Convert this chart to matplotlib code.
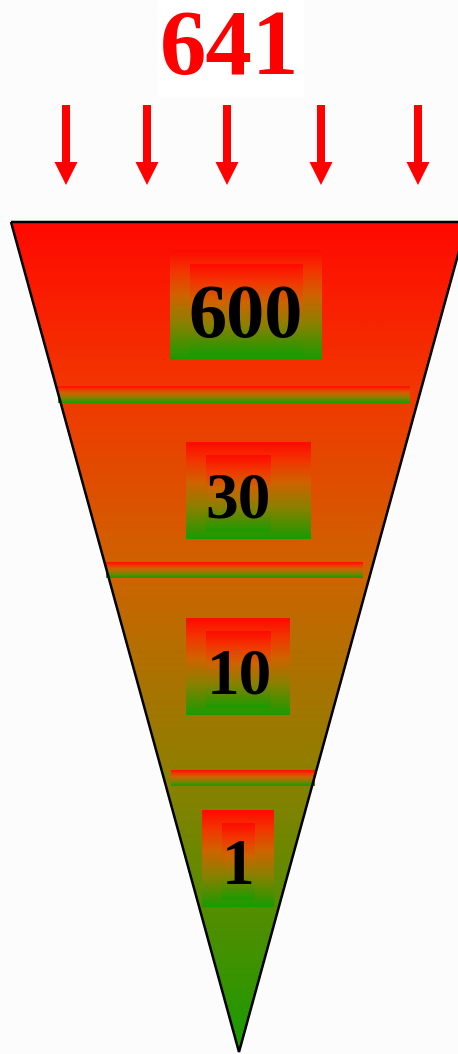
import numpy as np
import matplotlib.pyplot as plt
from matplotlib.colors import LinearSegmentedColormap
from matplotlib.patches import Polygon, Rectangle, FancyArrow

# funnel data
total = 641
stage_values = [600, 30, 10, 1]
stage_labels = [str(v) for v in stage_values]

# layout (pixel space, y grows downward)
W, H = 458, 1054
funnel_top, funnel_apex = 222, 1052
funnel_left, funnel_right, funnel_cx = 11, 467, 239
arrow_x = [66, 147, 227, 321, 418]
outer_boxes = [(170, 322, 250, 359), (186, 311, 442, 539), (186, 290, 618, 715), (202, 274, 810, 907)]
inner_boxes = [(190, 303, 264, 355), (206, 271, 455, 532), (206, 271, 631, 708), (222, 255, 823, 900)]
label_pos = [(246, 337, 55), (238, 517, 47), (239, 693, 47), (238, 884, 47)]
separators = [(58, 410, 386, 403), (106, 363, 562, 578), (171, 315, 770, 786)]

cmap = LinearSegmentedColormap.from_list(
    'redgreen', [(0, '#ff0a00'), (0.2, '#f23700'), (0.42, '#ce6400'),
                 (0.67, '#8c8000'), (1, '#1a9b00')])
grad = np.linspace(0, 1, 256).reshape(-1, 1)

fig = plt.figure(figsize=(W / 100, H / 100), dpi=100)
fig.patch.set_facecolor('#fcfcfc')
ax = fig.add_axes([0, 0, 1, 1])
ax.set_facecolor('#fcfcfc')


def grad_rect(x0, x1, y0, y1, z, clip=None):
    im = ax.imshow(grad, cmap=cmap, extent=(x0, x1, y1, y0), aspect='auto',
                   interpolation='bilinear', zorder=z)
    if clip is not None:
        im.set_clip_path(clip)
    return im


# funnel body
tri = Polygon([(funnel_left, funnel_top), (funnel_right, funnel_top), (funnel_cx, funnel_apex)],
              closed=True, facecolor='none', edgecolor='black', linewidth=1.8, zorder=3)
ax.add_patch(tri)
grad_rect(funnel_left, funnel_right, funnel_top, funnel_apex, 1, clip=tri)

# separators between stages
for x0, x1, y0, y1 in separators:
    grad_rect(x0, x1, y0, y1, 2)

# stage boxes and numbers
for (ob, ib, (tx, ty, fs), lab) in zip(outer_boxes, inner_boxes, label_pos, stage_labels):
    grad_rect(*ob, 2)
    grad_rect(*ib, 2.5)
    ax.text(tx, ty, lab, ha='center', va='baseline', fontsize=fs, fontweight='bold',
            family='Liberation Serif', color='black', zorder=4)

# total on top
ax.add_patch(Rectangle((158, 0), 146, 97, facecolor='white', edgecolor='none', zorder=1))
ax.text(230, 74, str(total), ha='center', va='baseline', fontsize=67, fontweight='bold',
        family='Liberation Serif', color='#ff0000', zorder=4)

# input arrows
for x in arrow_x:
    ax.add_patch(FancyArrow(x, 105, 0, 80, width=8, head_width=23, head_length=23,
                            length_includes_head=True, color='#ff0000', linewidth=0, zorder=3))

ax.set_xlim(0, W)
ax.set_ylim(H, 0)
ax.axis('off')
fig.savefig('out.png', dpi=100, facecolor=fig.get_facecolor())
